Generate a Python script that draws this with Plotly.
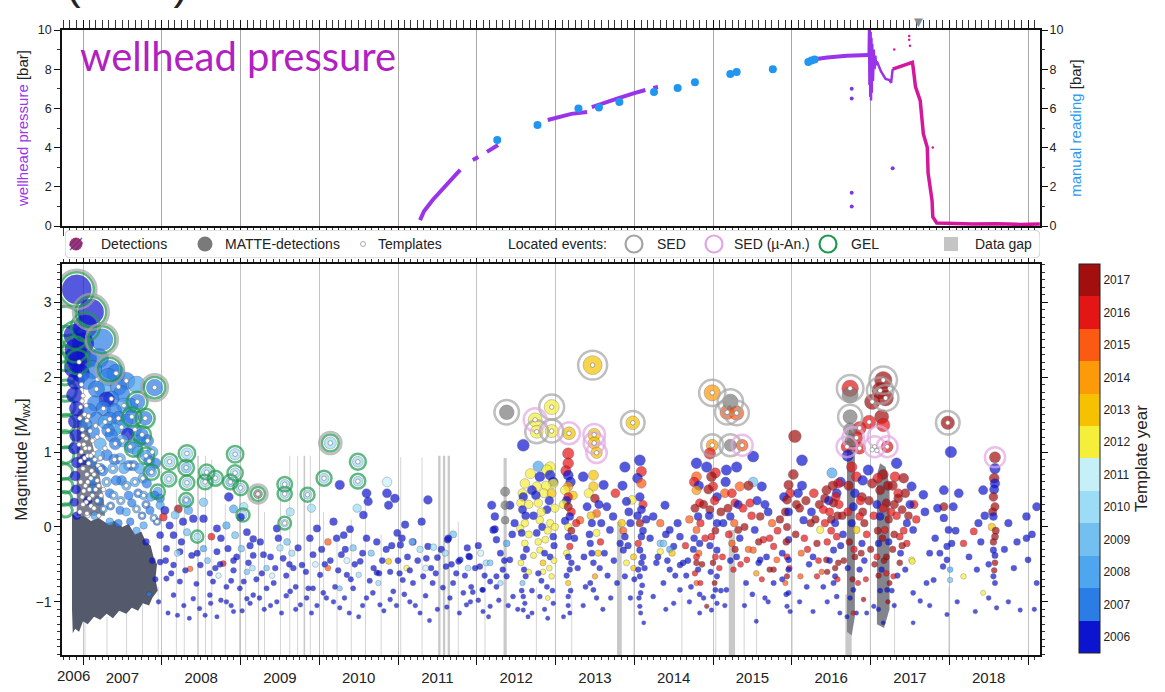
import numpy as np
import pandas as pd
import plotly.graph_objects as go

W, H = 1165, 692

# time window shown on both panels (decimal years)
T_START, T_END = 2006.733, 2019.152

# ------------------------------------------------------------------ upper panel
# wellhead pressure record (decimal year, bar); None separates recorded segments
whp_t = [2011.28, 2011.33, 2011.44, 2011.62, 2011.79, None,
         2011.95, 2012.02, None,
         2012.13, 2012.20, 2012.27, None,
         2012.90, 2013.05, 2013.20, 2013.40, None,
         2013.46, 2013.62, 2013.80, 2014.00, 2014.14, None,
         2014.24, 2014.30, None,
         2016.27, 2016.45, 2016.70, 2016.975]
whp_p = [0.30, 0.75, 1.33, 2.10, 2.86, None,
         3.37, 3.52, None,
         3.78, 3.95, 4.13, None,
         5.41, 5.58, 5.72, 5.82, None,
         6.07, 6.30, 6.52, 6.78, 6.94, None,
         7.04, 7.09, None,
         8.50, 8.60, 8.68, 8.72]
# rapid fluctuations at the beginning of 2017
whp_burst_t = [2016.975, 2016.98, 2016.985, 2016.99, 2016.995, 2017.0, 2017.005, 2017.01,
               2017.015, 2017.02, 2017.03, 2017.04, 2017.05, 2017.06, 2017.07, 2017.08,
               2017.09, 2017.13, 2017.19, 2017.24, 2017.26, 2017.27, 2017.28]
whp_burst_p = [8.72, 10.0, 7.2, 10.0, 6.6, 9.9, 6.4, 9.6,
               6.8, 9.3, 7.4, 9.0, 8.0, 8.7, 8.2, 8.4,
               8.3, 7.9, 7.5, 7.45, 7.3, 7.8, 8.0]
# final period and shut-in (drawn in magenta)
whp_late_t = [2017.28, 2017.40, 2017.53, 2017.54, 2017.57, 2017.63, 2017.67, 2017.72,
              2017.73, 2017.78, 2017.79, 2017.84, 2018.00, 2018.30, 2018.60, 2018.90, 2019.15]
whp_late_p = [8.00, 8.15, 8.35, 8.10, 7.10, 6.40, 4.70, 4.00,
              2.70, 1.30, 0.46, 0.15, 0.12, 0.10, 0.12, 0.08, 0.10]
whp_odd_t = [2016.76, 2016.76, 2016.76, 2016.76, 2017.28]
whp_odd_p = [7.0, 6.5, 1.7, 1.0, 2.95]
whp_late_odd_t = [2017.30, 2017.49, 2017.49, 2017.50, 2017.79]
whp_late_odd_p = [9.0, 9.7, 9.5, 9.2, 4.0]

# manual pressure readings (decimal year, bar)
manual_t = [2012.26, 2012.77, 2013.29, 2013.55, 2013.81, 2014.25, 2014.55, 2014.77,
            2015.22, 2015.30, 2015.76, 2016.21, 2016.25, 2016.29]
manual_p = [4.39, 5.15, 6.00, 6.05, 6.33, 6.84, 7.04, 7.33,
            7.76, 7.86, 8.00, 8.37, 8.45, 8.50]

# ------------------------------------------------------------------ template years
tpl_years = list(range(2006, 2018))
tpl_colors = ["#0c14cf", "#2b7de6", "#4ea6ee", "#73c0f0", "#9cdcf5", "#c6f0f8",
              "#f6ef3a", "#f6c200", "#fc9a0a", "#fb5a12", "#e41515", "#a30e0e"]

# ------------------------------------------------------------------ detections
# (decimal year, magnitude Mwx, template year)
det_early = [
    (2006.92, 3.17, 2006), (2007.10, 2.87, 2006), (2007.03, 2.67, 2006), (2006.90, 2.56, 2006),
    (2006.90, 2.37, 2006), (2006.93, 2.20, 2006), (2007.00, 2.45, 2006), (2007.05, 2.25, 2006),
    (2006.97, 2.05, 2006), (2006.90, 2.28, 2006), (2006.88, 2.12, 2006), (2006.91, 1.95, 2006),
    (2006.89, 1.76, 2006), (2006.92, 1.58, 2006), (2006.90, 1.41, 2006), (2006.91, 1.22, 2006),
    (2006.89, 1.05, 2006), (2006.92, 0.86, 2006), (2006.90, 0.68, 2006), (2006.91, 0.50, 2006),
    (2006.89, 0.33, 2006), (2006.92, 0.15, 2006),
    (2007.24, 2.50, 2007), (2007.34, 2.10, 2007), (2007.91, 1.86, 2007), (2007.69, 1.67, 2007),
    (2007.79, 1.45, 2007), (2007.75, 1.23, 2007), (2007.57, 1.24, 2006), (2007.40, 1.55, 2007),
    (2007.17, 1.84, 2007), (2007.32, 2.00, 2007), (2007.45, 1.87, 2007), (2007.49, 1.78, 2007),
    (2007.36, 1.71, 2007), (2007.26, 1.58, 2007), (2007.17, 1.44, 2007), (2007.34, 1.44, 2007),
    (2007.60, 1.62, 2007), (2007.62, 1.47, 2007), (2007.49, 1.33, 2008), (2007.32, 1.29, 2007),
    (2007.13, 1.27, 2007), (2007.03, 1.36, 2007), (2007.41, 1.11, 2007), (2007.22, 1.11, 2008),
    (2007.60, 1.07, 2007), (2007.70, 1.00, 2008), (2007.30, 0.96, 2007), (2007.47, 0.91, 2008),
    (2007.11, 0.87, 2007), (2007.22, 0.78, 2007), (2007.38, 0.78, 2008), (2007.58, 0.82, 2007),
    (2007.72, 0.78, 2008), (2007.85, 0.76, 2008), (2007.30, 0.60, 2008), (2007.49, 0.62, 2007),
    (2007.66, 0.60, 2008), (2007.81, 0.58, 2007), (2007.13, 0.51, 2007), (2007.39, 0.42, 2008),
    (2007.58, 0.42, 2007), (2007.77, 0.42, 2008), (2007.91, 0.42, 2007), (2007.26, 0.24, 2008),
    (2007.47, 0.22, 2007), (2007.68, 0.24, 2008), (2007.85, 0.22, 2007), (2007.98, 0.29, 2008),
    (2007.60, 0.07, 2007), (2007.77, 0.02, 2008), (2007.94, 0.07, 2007), (2007.34, 0.07, 2008),
    (2007.87, 0.73, 2008), (2007.80, 0.95, 2008), (2007.64, 1.05, 2008), (2007.95, 0.47, 2008),
    (2007.80, -0.20, 2006), (2007.88, -0.45, 2006), (2007.92, -0.70, 2006), (2007.84, -0.90, 2007),
    (2007.96, -1.00, 2006),
    (2007.05, 1.95, 2007), (2007.12, 2.10, 2007), (2007.20, 2.25, 2007), (2007.15, 1.65, 2007),
    (2007.25, 1.85, 2008), (2007.42, 2.05, 2007), (2007.55, 1.95, 2007), (2007.68, 1.90, 2008),
    (2007.52, 1.62, 2008), (2007.45, 1.45, 2007), (2007.28, 1.40, 2008), (2007.08, 1.55, 2007),
    (2007.55, 1.42, 2007), (2007.66, 1.30, 2008), (2007.36, 1.22, 2007), (2007.20, 0.95, 2008),
    (2007.50, 1.15, 2008), (2007.82, 1.15, 2007), (2007.88, 1.00, 2008), (2007.92, 0.85, 2007),
    (2007.42, 0.62, 2007), (2007.55, 0.55, 2008), (2007.70, 0.45, 2007), (2007.86, 0.40, 2008),
    (2007.20, 0.35, 2007), (2007.35, 0.28, 2007), (2007.55, 0.20, 2008), (2007.75, 0.15, 2007),
    (2007.90, 0.12, 2008), (2007.15, 0.15, 2008), (2007.45, 0.05, 2007), (2007.68, -0.05, 2008),
    (2007.06, 0.35, 2006), (2007.12, 0.62, 2007), (2007.02, 0.90, 2006), (2007.30, 1.70, 2006),
    (2007.40, 0.90, 2007), (2007.52, 0.78, 2008), (2007.64, 0.82, 2007), (2007.76, 0.65, 2008),
    (2007.34, 0.45, 2007), (2007.48, 0.35, 2008), (2007.62, 0.32, 2007), (2007.80, 0.30, 2007),
    (2007.25, 0.75, 2007), (2007.40, 1.30, 2008), (2007.72, 1.15, 2007), (2007.84, 0.88, 2007),
]

det_2008 = [
    (2007.98, 0.38, 2007), (2008.04, 0.22, 2006), (2008.17, 0.16, 2009), (2008.21, 0.24, 2017),
    (2008.02, 0.13, 2016), (2008.32, 0.33, 2009), (2008.34, 0.22, 2008), (2008.10, 0.02, 2006),
    (2008.27, 0.07, 2006), (2008.40, 0.11, 2006), (2008.53, 0.11, 2006), (2008.53, 0.33, 2009),
    (2008.85, 0.40, 2006), (2008.91, 0.24, 2008), (2009.04, 0.27, 2010), (2009.00, 0.13, 2006),
    (2007.98, -0.11, 2006), (2008.15, -0.11, 2006), (2008.32, -0.07, 2009), (2008.45, -0.13, 2010),
    (2008.63, -0.13, 2016), (2008.70, -0.02, 2006), (2008.82, 0.02, 2008), (2008.93, -0.11, 2009),
    (2009.08, -0.07, 2006), (2009.16, -0.16, 2006), (2008.06, -0.29, 2006), (2008.23, -0.33, 2006),
    (2008.38, -0.38, 2006), (2008.53, -0.29, 2008), (2008.70, -0.33, 2006), (2008.84, -0.29, 2006),
    (2009.01, -0.29, 2009), (2009.16, -0.38, 2006), (2007.98, -0.47, 2006), (2008.15, -0.51, 2006),
    (2008.36, -0.56, 2015), (2008.49, -0.51, 2006), (2008.61, -0.62, 2006), (2008.78, -0.49, 2016),
    (2008.91, -0.58, 2006), (2009.08, -0.60, 2009), (2008.06, -0.69, 2006), (2008.23, -0.73, 2006),
    (2008.44, -0.76, 2006), (2008.65, -0.73, 2006), (2008.82, -0.80, 2006), (2009.04, -0.73, 2006),
    (2008.15, -0.91, 2006), (2008.40, -0.96, 2006), (2008.61, -0.91, 2006), (2008.82, -1.00, 2006),
    (2009.08, -0.96, 2006), (2008.48, -1.09, 2006), (2008.91, -1.13, 2006),
    (2008.10, 0.87, 2010), (2008.09, 0.64, 2010), (2008.32, 0.98, 2010), (2008.31, 0.79, 2009),
    (2008.32, 0.59, 2010), (2008.31, 0.36, 2009), (2008.57, 0.73, 2010), (2008.55, 0.60, 2010),
    (2008.68, 0.65, 2010), (2008.93, 0.97, 2010), (2008.93, 0.72, 2010), (2008.87, 0.60, 2009),
    (2009.00, 0.52, 2010), (2009.03, 0.16, 2010),
    (2008.05, -0.45, 2006), (2008.25, -0.20, 2006), (2008.45, -0.35, 2006), (2008.58, -0.45, 2009),
    (2008.75, -0.15, 2006), (2008.95, -0.40, 2006), (2009.12, -0.25, 2006), (2009.20, -0.70, 2006),
]

det_2009_2011 = [
    (2009.25, -0.20, 2006), (2009.29, -0.37, 2006), (2009.33, -0.55, 2009), (2009.46, -0.02, 2006),
    (2009.48, -0.15, 2006), (2009.50, -0.28, 2010), (2009.54, -0.42, 2006), (2009.59, -0.20, 2009),
    (2009.63, 0.20, 2010), (2009.67, -0.55, 2006), (2009.73, -0.28, 2006), (2009.78, -0.51, 2006),
    (2009.88, -0.15, 2006), (2009.90, 0.25, 2010), (2009.92, -0.37, 2006), (2009.97, -0.02, 2006),
    (2010.01, -0.64, 2006), (2010.11, -0.20, 2015), (2010.11, -0.55, 2015), (2010.18, 0.07, 2006),
    (2010.22, -0.15, 2006), (2010.26, 0.56, 2006), (2010.28, -0.37, 2006), (2010.31, -0.11, 2006),
    (2010.35, -0.64, 2006), (2010.39, -0.03, 2006), (2010.43, -0.28, 2009), (2010.48, 0.25, 2010),
    (2010.52, -0.46, 2006), (2010.56, 0.16, 2006), (2010.60, 0.45, 2006), (2010.62, 0.34, 2006),
    (2010.60, -0.15, 2006), (2010.69, -0.55, 2006), (2010.73, -0.20, 2006), (2010.86, 0.45, 2006),
    (2010.86, 0.60, 2011), (2010.88, 0.29, 2006), (2010.88, -0.46, 2013), (2010.96, 0.38, 2006),
    (2011.03, -0.24, 2006), (2011.11, -0.55, 2012), (2011.19, -0.20, 2006), (2008.91, -0.45, 2006),
    (2008.74, -0.50, 2006), (2008.99, -0.82, 2006), (2009.16, -0.91, 2006), (2009.33, -0.82, 2006),
    (2009.46, -1.00, 2006), (2009.63, -0.86, 2006), (2009.76, -1.04, 2006), (2009.92, -0.82, 2006),
    (2010.09, -0.95, 2006), (2010.26, -1.08, 2006), (2010.43, -0.82, 2006), (2010.60, -0.95, 2006),
    (2010.77, -1.04, 2006), (2010.94, -0.86, 2006), (2011.15, -1.00, 2006), (2010.26, -0.82, 2009),
    (2010.50, -0.64, 2010), (2009.56, 0.57, 2010), (2009.56, 0.44, 2010), (2009.85, 0.43, 2010),
    (2010.06, 0.65, 2010), (2010.49, 0.87, 2010), (2010.49, 0.61, 2010), (2009.56, 0.05, 2010),
    (2009.38, -0.40, 2006), (2009.42, -0.75, 2006), (2009.58, -0.65, 2006), (2009.65, -0.35, 2010),
    (2009.70, -0.80, 2006), (2009.83, -0.60, 2006), (2010.03, -0.30, 2006), (2010.14, -0.45, 2006),
    (2010.20, -0.80, 2006), (2010.33, -0.30, 2006), (2010.45, -0.50, 2006), (2010.55, -0.35, 2006),
    (2010.66, -0.35, 2009), (2010.80, -0.45, 2006), (2010.92, -0.25, 2006), (2011.00, -0.45, 2006),
]

det_2011_2012 = [
    (2011.38, 0.36, 2006), (2011.09, 0.03, 2006), (2011.30, 0.07, 2006), (2010.99, -0.08, 2006),
    (2011.05, -0.15, 2006), (2011.18, -0.20, 2009), (2011.38, -0.26, 2006), (2011.28, -0.30, 2010),
    (2011.63, -0.17, 2006), (2011.50, -0.41, 2006), (2011.61, -0.53, 2006), (2011.77, -0.46, 2006),
    (2011.90, -0.39, 2006), (2012.12, -0.48, 2010), (2012.23, -0.03, 2006), (2012.25, -0.17, 2006),
    (2012.19, 0.29, 2006), (2012.59, 1.09, 2006), (2010.73, -0.61, 2006), (2010.90, -0.60, 2006),
    (2011.06, -0.71, 2006), (2011.19, -0.75, 2006), (2011.32, -0.66, 2006), (2011.44, -0.75, 2006),
    (2011.57, -0.81, 2006), (2011.70, -0.75, 2006), (2011.83, -0.88, 2006), (2011.95, -0.87, 2006),
    (2012.07, -0.84, 2006), (2012.17, -0.73, 2006), (2012.25, -0.66, 2006), (2012.33, -0.57, 2006),
    (2010.90, -0.97, 2006), (2011.28, -1.15, 2006), (2011.62, -1.07, 2006), (2011.87, -1.04, 2006),
    (2012.08, -1.13, 2006), (2011.64, -0.15, 2006), (2011.79, -0.44, 2006), (2011.91, -0.40, 2006),
    (2011.89, -0.55, 2010), (2012.04, -0.53, 2006), (2012.17, -0.48, 2009), (2012.21, -0.04, 2006),
    (2012.23, 0.14, 2006), (2012.38, -0.22, 2008), (2012.42, -0.44, 2006), (2012.38, -0.66, 2006),
    (2012.25, -0.80, 2006), (2012.08, -0.84, 2006), (2011.93, -0.80, 2006), (2012.46, -0.93, 2006),
    (2012.17, -1.06, 2006), (2012.42, 0.29, 2006), (2011.45, -0.27, 2010), (2011.70, -0.10, 2009),
    (2011.12, -0.40, 2006), (2011.25, -0.45, 2006), (2011.42, -0.55, 2006), (2011.55, -0.30, 2006),
    (2011.68, -0.50, 2006), (2011.85, -0.65, 2006), (2011.98, -0.55, 2006), (2012.02, -0.25, 2006),
    (2012.30, -0.35, 2006), (2012.45, -0.10, 2006), (2012.48, 0.05, 2006),
]

# additional small events 2008-2012 (mostly 2006 templates)
det_2008_2012_low = [
    (2008.08, -1.15, 2006), (2008.28, -1.05, 2006), (2008.35, -1.22, 2006), (2008.55, -1.18, 2006),
    (2008.62, -1.02, 2006), (2008.75, -0.98, 2006), (2008.88, -1.05, 2006), (2009.02, -1.12, 2006),
    (2009.12, -1.02, 2006), (2009.24, -0.95, 2006), (2009.38, -1.05, 2006), (2009.52, -1.15, 2006),
    (2009.58, -0.92, 2006), (2009.70, -1.10, 2006), (2009.84, -0.95, 2006), (2009.97, -1.05, 2006),
    (2010.05, -0.88, 2006), (2010.18, -1.00, 2006), (2010.32, -0.95, 2006), (2010.38, -1.15, 2006),
    (2010.55, -1.05, 2006), (2010.68, -0.88, 2006), (2010.82, -1.12, 2006), (2010.98, -1.05, 2006),
    (2011.08, -0.90, 2006), (2011.22, -1.05, 2006), (2011.35, -0.92, 2006), (2011.50, -1.10, 2006),
    (2011.66, -0.95, 2006), (2011.78, -1.15, 2006), (2011.92, -1.00, 2006), (2012.02, -0.98, 2006),
    (2012.15, -1.20, 2006), (2012.28, -0.98, 2006), (2012.52, -1.10, 2006),
    (2008.12, -0.62, 2006), (2008.30, -0.58, 2006), (2008.68, -0.55, 2006), (2008.88, -0.72, 2006),
    (2009.10, -0.48, 2006), (2009.27, -0.62, 2006), (2009.44, -0.55, 2006), (2009.62, -0.50, 2006),
    (2009.86, -0.82, 2006), (2010.07, -0.50, 2006), (2010.24, -0.58, 2006), (2010.40, -0.70, 2006),
    (2010.64, -0.72, 2006), (2010.76, -0.62, 2006), (2010.85, -0.30, 2006), (2011.02, -0.62, 2006),
    (2011.15, -0.58, 2006), (2011.36, -0.42, 2006), (2011.48, -0.62, 2006), (2011.74, -0.62, 2006),
    (2011.88, -0.28, 2006), (2012.10, -0.65, 2006), (2012.35, -0.45, 2006),
    (2008.20, -0.35, 2010), (2008.72, -0.65, 2011), (2009.15, -0.55, 2010), (2009.40, -0.65, 2011),
    (2009.95, -0.50, 2011), (2010.35, -0.45, 2011), (2010.75, -0.75, 2010), (2011.35, -0.55, 2011),
    (2011.60, -0.35, 2010), (2012.05, -0.35, 2011), (2012.30, -0.75, 2010),
]

det_2012_2014 = [
    (2012.78, 0.81, 2008), (2012.93, 0.80, 2012), (2012.61, 0.58, 2012), (2012.80, 0.67, 2006),
    (2012.93, 0.69, 2006), (2012.76, 0.54, 2012), (2012.97, 0.58, 2012), (2012.89, 0.76, 2012),
    (2012.97, 0.60, 2006), (2012.68, 0.71, 2012), (2012.70, 0.49, 2006),
    (2012.59, 0.40, 2006), (2012.58, 0.23, 2006), (2012.61, 0.05, 2012), (2012.57, -0.08, 2006),
    (2012.61, -0.22, 2012), (2012.59, -0.40, 2006), (2012.60, -0.57, 2006), (2012.58, -0.75, 2009),
    (2012.59, -0.93, 2006), (2012.59, -1.11, 2006),
    (2012.78, 0.32, 2012), (2012.89, 0.23, 2006), (2012.80, 0.09, 2012), (2012.93, 0.05, 2012),
    (2012.76, -0.08, 2006), (2012.87, -0.17, 2012), (2012.97, -0.13, 2006), (2012.80, -0.31, 2012),
    (2012.93, -0.40, 2006), (2012.84, -0.48, 2013), (2012.78, -0.62, 2006), (2012.95, -0.66, 2012),
    (2012.89, -0.80, 2006), (2012.80, -0.93, 2006), (2012.97, -1.02, 2006),
    (2013.16, 0.98, 2016), (2013.16, 0.85, 2016), (2013.16, 0.69, 2006), (2013.16, 0.54, 2014),
    (2013.16, 0.27, 2017), (2013.18, 0.14, 2006), (2013.16, 0.00, 2012), (2013.16, -0.13, 2006),
    (2013.18, -0.26, 2016), (2013.16, -0.40, 2006), (2013.18, -0.57, 2006), (2013.16, -0.75, 2013),
    (2013.16, -0.93, 2006), (2013.18, -1.15, 2006), (2013.12, 0.49, 2012), (2013.16, 0.40, 2016),
    (2013.35, 0.67, 2006), (2013.48, 0.54, 2013), (2013.50, 0.38, 2017), (2013.40, 0.27, 2006),
    (2013.52, 0.18, 2015), (2013.46, 0.05, 2006), (2013.31, 0.09, 2015), (2013.52, -0.08, 2012),
    (2013.44, -0.22, 2006), (2013.54, -0.35, 2013), (2013.48, -0.48, 2006), (2013.50, -0.66, 2014),
    (2013.48, -0.84, 2006), (2013.61, 0.56, 2006), (2013.65, 0.27, 2006), (2013.73, 0.14, 2006),
    (2013.76, 0.45, 2016), (2013.69, -0.04, 2006), (2013.82, -0.22, 2006), (2013.48, 0.69, 2013),
    (2013.88, 0.80, 2006), (2013.90, 0.34, 2006), (2013.84, 0.05, 2013), (2013.88, -0.13, 2006),
    (2013.86, -0.31, 2006), (2013.90, -0.48, 2012), (2013.88, -0.66, 2006), (2013.97, 0.36, 2012),
    (2013.99, -0.40, 2013), (2013.99, -0.55, 2013),
    (2014.07, 0.89, 2006), (2014.09, 0.74, 2016), (2014.09, 0.58, 2015), (2014.07, 0.40, 2006),
    (2014.09, 0.23, 2006), (2014.07, 0.05, 2017), (2014.09, -0.13, 2006), (2014.07, -0.31, 2006),
    (2014.09, -0.48, 2006), (2014.07, -0.66, 2006), (2014.08, -0.88, 2006), (2014.07, -1.06, 2006),
    (2014.24, 0.14, 2006), (2014.33, 0.05, 2015), (2014.39, 0.29, 2006), (2014.45, -0.04, 2006),
    (2014.33, -0.22, 2009), (2014.50, -0.26, 2006), (2014.58, -0.13, 2006), (2014.28, -0.48, 2006),
    (2014.45, -0.57, 2006), (2014.62, -0.48, 2006), (2014.37, -0.75, 2006), (2014.58, -0.84, 2006),
    (2014.24, -0.93, 2006), (2014.50, -1.02, 2006), (2014.33, -0.33, 2012), (2014.45, -0.30, 2008),
    (2014.37, -0.22, 2009), (2014.48, -0.35, 2013), (2014.58, -0.51, 2006),
    (2012.56, 0.32, 2012), (2012.62, 0.15, 2006), (2012.55, -0.02, 2012), (2012.63, -0.30, 2006),
    (2012.56, -0.48, 2012), (2012.62, -0.66, 2006), (2012.57, -0.85, 2006), (2012.61, -1.02, 2006),
    (2012.75, 0.42, 2006), (2012.85, 0.45, 2012), (2012.92, 0.35, 2006), (2012.99, 0.25, 2012),
    (2012.83, 0.00, 2006), (2012.90, -0.05, 2012), (2012.98, -0.25, 2006), (2012.78, -0.20, 2012),
    (2012.86, -0.35, 2006), (2012.92, -0.55, 2012), (2012.82, -0.72, 2006), (2012.96, -0.85, 2006),
    (2012.86, -1.10, 2006),
    (2013.13, 0.75, 2016), (2013.19, 0.60, 2006), (2013.14, 0.35, 2006), (2013.20, 0.20, 2016),
    (2013.12, 0.08, 2006), (2013.20, -0.05, 2017), (2013.14, -0.35, 2012), (2013.20, -0.48, 2006),
    (2013.14, -0.65, 2006), (2013.19, -0.85, 2006), (2013.16, -1.05, 2006),
    (2013.42, 0.45, 2012), (2013.55, 0.30, 2006), (2013.45, 0.15, 2013), (2013.58, 0.05, 2006),
    (2013.43, -0.10, 2006), (2013.57, -0.20, 2016), (2013.46, -0.35, 2006), (2013.56, -0.55, 2006),
    (2013.44, -0.75, 2006), (2013.52, -0.95, 2006),
    (2013.85, 0.55, 2006), (2013.93, 0.20, 2006), (2013.86, -0.05, 2015), (2013.92, -0.25, 2006),
    (2014.04, 0.65, 2006), (2014.11, 0.30, 2016), (2014.04, 0.15, 2006), (2014.11, -0.05, 2006),
    (2014.05, -0.22, 2016), (2014.11, -0.40, 2006), (2014.05, -0.57, 2006), (2014.10, -0.78, 2006),
    (2014.06, -0.95, 2006), (2014.08, -1.15, 2006),
    (2014.20, -0.15, 2006), (2014.30, -0.40, 2006), (2014.40, -0.10, 2006), (2014.42, -0.45, 2006),
    (2014.52, -0.65, 2006), (2014.55, 0.05, 2006), (2014.65, -0.25, 2016), (2014.66, -0.65, 2006),
    (2012.58, 0.45, 2012), (2012.66, 0.30, 2012), (2012.72, 0.15, 2006), (2012.66, -0.10, 2012),
    (2012.72, -0.38, 2012), (2012.66, -0.60, 2012), (2012.70, -0.85, 2006), (2012.88, 0.55, 2012),
    (2012.95, 0.45, 2013), (2012.82, 0.20, 2012), (2012.99, 0.00, 2012), (2012.84, -0.60, 2012),
    (2012.98, -0.45, 2012), (2012.90, -0.95, 2012),
    (2013.10, 0.30, 2012), (2013.22, 0.42, 2013), (2013.24, -0.15, 2006), (2013.28, -0.55, 2006),
    (2013.26, 0.05, 2016), (2013.36, -0.40, 2006), (2013.38, -0.80, 2006), (2013.62, -0.35, 2006),
    (2013.66, -0.65, 2006), (2013.74, -0.45, 2006), (2013.78, -0.75, 2006), (2013.95, 0.05, 2006),
    (2014.00, -0.70, 2006), (2014.13, -0.55, 2006), (2014.15, 0.10, 2006),
]

det_2014_2016 = [
    (2014.79, 0.85, 2006), (2014.79, 0.67, 2015), (2014.79, 0.49, 2014), (2014.83, 0.32, 2016),
    (2014.81, 0.14, 2006), (2014.79, -0.04, 2015), (2014.83, -0.22, 2006), (2014.79, -0.40, 2016),
    (2014.81, -0.57, 2006), (2014.79, -0.75, 2015), (2014.92, 0.80, 2006), (2014.96, 0.98, 2016),
    (2014.98, 0.67, 2017), (2015.00, 0.54, 2016), (2015.03, 0.72, 2016), (2015.05, 0.40, 2006),
    (2014.96, 0.23, 2017), (2015.05, 0.05, 2006), (2014.98, -0.13, 2016), (2015.05, -0.31, 2006),
    (2015.00, -0.48, 2017), (2015.05, -0.66, 2006), (2015.03, -0.84, 2006), (2015.05, -1.02, 2006),
    (2015.17, 0.76, 2006), (2015.15, 0.45, 2015), (2015.30, 0.80, 2006), (2015.34, 0.54, 2015),
    (2015.28, 0.32, 2016), (2015.22, 0.14, 2006), (2015.32, -0.04, 2017), (2015.24, -0.22, 2015),
    (2015.30, -0.40, 2006), (2015.26, -0.57, 2016), (2015.51, 0.94, 2006), (2015.51, 0.60, 2009),
    (2015.62, 0.54, 2006), (2015.47, 0.32, 2016), (2015.60, 0.14, 2017), (2015.53, -0.04, 2006),
    (2015.64, -0.17, 2016), (2015.51, -0.31, 2015), (2015.58, -0.48, 2006), (2015.77, -0.26, 2016),
    (2015.81, -0.44, 2015), (2015.72, -0.57, 2017), (2015.77, -0.75, 2006),
    (2014.79, -0.48, 2017), (2014.84, -0.75, 2016), (2015.00, -0.93, 2006), (2014.98, -1.11, 2006),
    (2014.92, -1.06, 2017), (2015.17, -0.84, 2006), (2015.43, -0.44, 2016), (2015.55, -0.62, 2014),
    (2015.60, -0.44, 2006), (2015.77, -0.57, 2017), (2015.96, -0.44, 2006), (2015.94, -0.66, 2017),
    (2015.96, -0.88, 2006), (2015.94, -1.06, 2006), (2014.70, 0.10, 2015), (2014.75, -0.30, 2006),
    (2014.88, 0.30, 2017), (2014.90, -0.15, 2016), (2015.10, 0.20, 2017), (2015.12, -0.40, 2016),
    (2015.40, 0.00, 2017), (2015.45, -0.30, 2015), (2015.70, 0.20, 2006), (2015.72, -0.15, 2016),
    (2015.85, 0.10, 2017), (2015.88, -0.35, 2006),
    (2014.76, 0.60, 2016), (2014.82, 0.55, 2006), (2014.77, 0.25, 2017), (2014.84, 0.05, 2016),
    (2014.76, -0.15, 2006), (2014.82, -0.35, 2015), (2014.77, -0.62, 2016), (2014.83, -0.90, 2006),
    (2014.94, 0.50, 2017), (2015.02, 0.35, 2016), (2014.95, 0.15, 2006), (2015.03, -0.05, 2017),
    (2014.96, -0.25, 2006), (2015.03, -0.40, 2016), (2014.97, -0.60, 2006), (2015.02, -0.75, 2017),
    (2015.16, 0.60, 2006), (2015.24, 0.45, 2016), (2015.32, 0.30, 2006), (2015.19, 0.25, 2017),
    (2015.27, 0.05, 2015), (2015.34, -0.15, 2006), (2015.20, -0.10, 2016), (2015.28, -0.30, 2017),
    (2015.22, -0.45, 2006), (2015.35, -0.50, 2016), (2015.45, 0.55, 2017), (2015.56, 0.35, 2006),
    (2015.49, 0.15, 2016), (2015.66, 0.30, 2006), (2015.58, -0.20, 2017), (2015.68, -0.40, 2006),
    (2015.82, -0.05, 2016), (2015.92, 0.20, 2017), (2015.98, 0.45, 2016), (2015.93, -0.20, 2017),
    (2015.97, -0.55, 2016), (2015.93, -0.90, 2006),
    (2014.68, -0.45, 2006), (2014.72, -0.80, 2006), (2014.86, -0.50, 2017), (2014.88, -0.95, 2006),
    (2015.08, -0.55, 2016), (2015.10, -0.85, 2006), (2015.13, 0.05, 2006), (2015.38, 0.25, 2016),
    (2015.42, -0.75, 2006), (2015.50, -0.90, 2006), (2015.62, -0.70, 2016), (2015.66, -0.95, 2006),
    (2015.75, 0.05, 2015), (2015.88, -0.70, 2006), (2015.90, 0.40, 2006),
]

det_2016_2019 = [
    (2016.04, 1.21, 2017), (2016.13, 0.89, 2006), (2015.96, 0.56, 2017), (2015.94, 0.36, 2017),
    (2015.96, 0.20, 2006), (2015.94, 0.00, 2017), (2015.96, -0.17, 2006), (2015.94, -0.40, 2016),
    (2015.96, -0.57, 2006), (2015.92, -0.75, 2015), (2016.15, 0.09, 2006), (2016.25, 0.20, 2006),
    (2016.40, 0.23, 2016), (2016.36, -0.04, 2012), (2016.32, -0.22, 2017), (2016.27, -0.40, 2006),
    (2016.44, 0.49, 2017), (2016.51, 0.72, 2008), (2016.59, 0.58, 2016), (2016.57, 0.45, 2006),
    (2016.53, 0.32, 2017), (2016.55, 0.05, 2006), (2016.57, -0.13, 2016), (2016.53, -0.31, 2006),
    (2016.59, -0.48, 2017), (2016.55, -0.66, 2006), (2016.82, 0.67, 2016), (2016.90, 0.62, 2006),
    (2016.89, 0.40, 2017), (2016.78, 0.27, 2006), (2016.86, 0.14, 2016), (2016.82, -0.04, 2013),
    (2016.89, -0.22, 2006), (2016.80, -0.40, 2017), (2016.86, -0.57, 2006), (2016.84, -0.75, 2016),
    (2016.97, 0.76, 2006), (2017.02, 0.58, 2017), (2017.12, 0.49, 2017), (2017.20, 0.32, 2017),
    (2017.12, 0.14, 2006), (2017.18, -0.04, 2016), (2017.10, -0.22, 2006), (2017.20, -0.40, 2017),
    (2017.14, -0.57, 2006), (2017.24, -0.75, 2017), (2017.33, 0.85, 2006), (2017.31, 0.67, 2016),
    (2017.35, 0.38, 2017), (2017.44, 0.45, 2017), (2017.40, 0.23, 2017), (2017.46, 0.05, 2006),
    (2017.52, 0.54, 2006), (2017.37, -0.13, 2016), (2017.46, -0.22, 2016), (2017.52, -0.44, 2012),
    (2017.54, -0.04, 2006), (2017.44, -0.57, 2006), (2017.67, 0.43, 2006), (2017.69, 0.20, 2006),
    (2017.82, -0.15, 2006), (2017.93, 0.49, 2006), (2017.93, 0.27, 2017), (2018.05, 0.27, 2006),
    (2017.93, 0.12, 2006), (2017.99, -0.04, 2006), (2018.03, -0.22, 2006), (2017.97, -0.44, 2006),
    (2018.01, -0.57, 2008), (2018.18, -0.22, 2016), (2018.18, -0.66, 2012), (2018.31, -0.06, 2016),
    (2018.37, 0.05, 2006), (2018.43, 0.49, 2006), (2018.58, 0.78, 2006), (2018.58, 0.58, 2006),
    (2018.56, 0.40, 2017), (2018.58, 0.27, 2017), (2018.56, 0.14, 2006), (2018.54, 0.00, 2013),
    (2018.58, -0.13, 2017), (2018.56, -0.31, 2006), (2018.58, -0.48, 2017), (2018.56, -0.66, 2006),
    (2018.86, -0.20, 2006), (2018.98, 0.14, 2006), (2018.98, -0.15, 2006), (2019.11, 0.27, 2006),
    (2019.00, -0.44, 2006), (2019.11, -0.75, 2006), (2018.02, 1.00, 2006), (2016.13, 0.55, 2006),
    (2016.11, -0.66, 2015), (2016.19, -0.80, 2006), (2016.32, -0.66, 2016), (2016.44, -0.44, 2017),
    (2016.53, -0.75, 2006), (2016.57, -0.93, 2006), (2016.78, -0.84, 2006), (2016.91, -0.97, 2017),
    (2016.82, -1.15, 2006), (2017.04, -1.06, 2006), (2017.21, -0.84, 2006), (2017.29, -0.66, 2016),
    (2017.37, -0.48, 2017), (2017.53, -0.46, 2012), (2017.54, -0.88, 2006), (2017.63, -0.99, 2006),
    (2017.80, -0.71, 2006), (2017.92, -0.53, 2006), (2018.01, -0.71, 2009), (2017.97, -0.26, 2006),
    (2018.35, -0.57, 2006), (2018.43, -0.88, 2012), (2017.71, -0.75, 2006), (2017.88, -0.35, 2006),
    (2016.05, -0.10, 2017), (2016.10, 0.25, 2017), (2016.20, -0.30, 2016), (2016.30, 0.10, 2017),
    (2016.45, -0.20, 2016), (2016.50, 0.10, 2017), (2016.55, -0.55, 2017), (2016.60, 0.30, 2016),
    (2016.65, -0.10, 2006), (2016.48, -0.45, 2006), (2016.38, -0.60, 2015), (2016.22, -0.50, 2006),
    (2016.12, -0.35, 2015), (2017.30, 0.30, 2017), (2017.42, -0.05, 2016), (2017.48, 0.15, 2017),
    (2017.55, 0.30, 2016), (2017.38, -0.35, 2006), (2018.58, 0.93, 2017), (2017.98, 1.39, 2017),
    (2016.02, 0.70, 2017), (2016.08, 0.45, 2006), (2016.18, 0.35, 2017), (2016.28, 0.45, 2016),
    (2016.35, 0.30, 2017), (2016.42, 0.05, 2016), (2016.47, 0.35, 2006), (2016.52, 0.55, 2017),
    (2016.58, 0.15, 2017), (2016.62, -0.25, 2006), (2016.50, -0.05, 2016), (2016.45, -0.60, 2017),
    (2016.40, -0.80, 2006), (2016.58, -0.70, 2016), (2016.62, 0.60, 2006),
    (2016.71, 0.95, 2006), (2016.76, 0.80, 2016), (2016.72, 0.55, 2017), (2016.80, 0.45, 2006),
    (2016.71, 0.20, 2016), (2016.76, 0.05, 2006), (2016.73, -0.20, 2017), (2016.79, -0.30, 2016),
    (2016.71, -0.55, 2006), (2016.77, -0.70, 2017), (2016.74, -0.95, 2006), (2016.78, -1.15, 2016),
    (2016.90, 0.20, 2017), (2016.95, -0.10, 2016), (2016.92, -0.45, 2006), (2016.98, 0.35, 2017),
    (2017.00, -0.30, 2017),
    (2017.09, 0.65, 2016), (2017.16, 0.70, 2017), (2017.22, 0.55, 2017), (2017.08, 0.30, 2006),
    (2017.16, 0.25, 2016), (2017.23, 0.10, 2017), (2017.09, -0.05, 2017), (2017.15, -0.15, 2017),
    (2017.23, -0.20, 2006), (2017.08, -0.40, 2016), (2017.17, -0.45, 2017), (2017.10, -0.65, 2017),
    (2017.20, -0.62, 2016), (2017.12, -0.85, 2006), (2017.22, -1.00, 2017), (2017.10, -1.10, 2006),
    (2017.28, 0.55, 2017), (2017.33, 0.15, 2016), (2017.28, -0.30, 2017), (2017.34, -0.65, 2006),
    (2017.42, 0.65, 2017), (2017.50, 0.30, 2006), (2017.58, 0.10, 2016),
    (2017.75, -0.35, 2006), (2017.85, 0.25, 2006), (2018.08, -0.05, 2006), (2018.12, 0.45, 2006),
    (2018.25, -0.40, 2006), (2018.40, -0.20, 2006), (2018.45, 0.15, 2006), (2018.50, -0.50, 2006),
    (2018.57, 0.65, 2017), (2018.57, 0.50, 2006), (2018.55, 0.20, 2017), (2018.59, -0.05, 2017),
    (2018.56, -0.20, 2017), (2018.58, -0.38, 2006), (2018.57, -0.58, 2017), (2018.58, -0.75, 2006),
    (2018.70, -0.30, 2006), (2018.75, 0.05, 2006), (2018.82, -0.55, 2006), (2019.05, -0.10, 2006),
    (2016.06, 0.30, 2017), (2016.16, -0.15, 2016), (2016.24, 0.05, 2017), (2016.34, -0.45, 2016),
    (2016.42, 0.38, 2017), (2016.48, 0.20, 2016), (2016.56, 0.40, 2016), (2016.64, 0.15, 2017),
    (2016.66, -0.45, 2017), (2016.87, 0.35, 2016), (2016.92, 0.05, 2017), (2016.88, -0.35, 2017),
    (2016.94, -0.70, 2016), (2017.04, 0.15, 2016), (2017.05, -0.50, 2017), (2017.26, 0.20, 2016),
    (2017.30, -0.10, 2017), (2017.27, -0.85, 2006), (2017.35, 0.45, 2016), (2017.40, -0.25, 2017),
]

det_small = [
    (2014.12, -1.28, 2006), (2014.83, -1.15, 2006), (2015.55, -1.26, 2006), (2015.98, -1.13, 2006),
    (2016.27, -1.13, 2006), (2016.61, -1.15, 2006), (2017.16, -1.28, 2006), (2017.54, -1.28, 2006),
    (2017.97, -1.17, 2006), (2018.33, -1.13, 2006), (2018.60, -1.08, 2006), (2018.90, -1.11, 2006),
    (2013.10, -1.20, 2006), (2012.70, -1.15, 2006), (2013.60, -1.10, 2006), (2011.40, -1.25, 2006),
    (2010.50, -1.20, 2006), (2009.90, -1.15, 2006), (2009.30, -1.10, 2006), (2008.70, -1.20, 2006),
    (2008.20, -1.18, 2006), (2012.40, -1.05, 2006), (2012.65, -1.20, 2006), (2012.90, -1.22, 2006),
    (2013.35, -1.05, 2006), (2013.70, -0.95, 2006), (2013.95, -0.95, 2006), (2014.40, -1.10, 2006),
    (2014.70, -1.00, 2006), (2015.15, -1.05, 2006), (2015.40, -1.05, 2006), (2015.70, -1.00, 2006),
    (2016.10, -1.00, 2006), (2016.45, -1.00, 2006), (2016.70, -1.20, 2006), (2016.95, -1.15, 2006),
    (2017.30, -1.05, 2006), (2017.75, -1.05, 2006), (2018.10, -1.00, 2006), (2018.50, -0.95, 2006),
    (2018.75, -1.00, 2006), (2019.08, -1.10, 2006),
]

# detections that belong to located events
det_located = [
    (2010.14, 1.12, 2010), (2012.95, 1.60, 2012), (2012.74, 1.43, 2012), (2012.76, 1.27, 2012),
    (2012.95, 1.28, 2012), (2013.17, 1.25, 2013), (2013.47, 2.16, 2013), (2013.49, 1.23, 2013),
    (2013.49, 1.12, 2013), (2013.52, 0.99, 2013), (2013.98, 1.39, 2013), (2014.99, 1.79, 2014),
    (2015.18, 1.53, 2015), (2015.30, 1.52, 2015), (2014.99, 1.09, 2014), (2015.37, 1.09, 2015),
    (2016.74, 1.85, 2016), (2017.16, 1.96, 2017), (2017.12, 1.82, 2017), (2017.19, 1.72, 2017),
    (2017.02, 1.67, 2017), (2017.14, 1.47, 2017), (2016.86, 1.32, 2016), (2016.98, 1.40, 2016),
    (2017.16, 1.36, 2016), (2016.82, 1.19, 2016), (2016.70, 1.07, 2016), (2016.86, 1.05, 2016),
    (2017.21, 1.07, 2016),
]

# MATTE detections (grey)
matte_t = [2012.38, 2012.36, 2012.36, 2012.36, 2015.22, 2015.22, 2016.74, 2016.74, 2016.74, 2016.75, 2009.22]
matte_m = [1.53, 0.47, 0.29, 0.09, 1.67, 1.09, 1.76, 1.47, 1.30, 1.15, 0.44]

# dense swarms of MATTE detections, outlined (decimal year, magnitude)
swarm_2007_t = [2006.86, 2006.93, 2007.00, 2007.10, 2007.20, 2007.30, 2007.40, 2007.50, 2007.58, 2007.66,
                2007.74, 2007.80, 2007.86, 2007.90, 2007.94, 2007.92, 2007.95, 2007.88, 2007.84, 2007.76,
                2007.70, 2007.62, 2007.55, 2007.46, 2007.38, 2007.30, 2007.22, 2007.14, 2007.06, 2007.00,
                2006.95, 2006.90, 2006.87, 2006.86]
swarm_2007_m = [0.18, 0.12, 0.16, 0.08, 0.12, 0.05, 0.08, 0.00, 0.04, -0.10,
                -0.06, -0.20, -0.25, -0.42, -0.50, -0.70, -0.85, -0.95, -1.05, -1.02,
                -1.12, -1.08, -1.16, -1.12, -1.22, -1.16, -1.24, -1.20, -1.30, -1.26,
                -1.40, -1.36, -1.42, -1.10]
swarm_2007b_t = [2006.92, 2006.92, 2006.98, 2007.05, 2007.12, 2007.20, 2007.26, 2007.28]
swarm_2007b_m = [0.15, 1.50, 1.60, 1.40, 1.10, 0.75, 0.40, 0.15]
swarm_2016_t = [2016.70, 2016.70, 2016.73, 2016.77, 2016.80, 2016.80, 2016.76]
swarm_2016_m = [-1.40, 1.15, 1.30, 1.28, 1.05, -1.20, -1.45]
swarm_2017_t = [2017.08, 2017.08, 2017.12, 2017.19, 2017.24, 2017.24, 2017.17]
swarm_2017_m = [-1.30, 0.70, 0.85, 0.80, 0.55, -1.10, -1.35]

# located events (decimal year, magnitude)
sed_t = [2006.92, 2007.10, 2007.24, 2007.34, 2007.91, 2009.22, 2010.14, 2012.38, 2012.95, 2012.76,
         2012.95, 2013.47, 2013.98, 2014.99, 2015.22, 2015.18, 2015.30, 2014.99, 2015.22, 2016.74,
         2016.74, 2017.16, 2017.12, 2017.19, 2017.98]
sed_m = [3.17, 2.87, 2.50, 2.10, 1.86, 0.44, 1.12, 1.53, 1.60, 1.27,
         1.28, 2.16, 1.39, 1.79, 1.67, 1.53, 1.52, 1.09, 1.09, 1.85,
         1.47, 1.96, 1.82, 1.72, 1.39]
sedmu_t = [2012.74, 2013.17, 2013.49, 2013.49, 2013.52, 2015.37, 2016.70, 2016.78, 2017.05, 2017.21,
           2017.10, 2018.58]
sedmu_m = [1.43, 1.25, 1.23, 1.12, 0.99, 1.09, 1.07, 1.19, 1.07, 1.07, 1.20, 0.93]
gel_t = [2006.92, 2007.10, 2007.03, 2006.90, 2006.90, 2006.93, 2007.24, 2007.34, 2007.91, 2007.69,
         2007.79, 2007.75, 2007.62, 2007.87, 2007.80, 2007.64, 2007.95, 2008.10, 2008.09, 2008.32,
         2008.31, 2008.32, 2008.31, 2008.57, 2008.55, 2008.68, 2008.93, 2008.93, 2008.87, 2009.00,
         2009.22, 2009.56, 2009.56, 2009.85, 2010.06, 2010.14, 2010.49, 2010.49, 2009.56, 2008.45,
         2009.03]
gel_m = [3.17, 2.87, 2.67, 2.56, 2.37, 2.20, 2.50, 2.10, 1.86, 1.67,
         1.45, 1.23, 1.47, 0.73, 0.95, 1.05, 0.47, 0.87, 0.64, 0.98,
         0.79, 0.59, 0.36, 0.73, 0.60, 0.65, 0.97, 0.72, 0.60, 0.52,
         0.44, 0.57, 0.44, 0.43, 0.65, 1.12, 0.87, 0.61, 0.05, -0.13,
         0.16]
# GEL events stacked at the very start of the record
gel_edge_t = [2006.78, 2006.77, 2006.78, 2006.77, 2006.78, 2006.77, 2006.78, 2006.77, 2006.78, 2006.77,
              2006.78, 2006.77, 2006.78]
gel_edge_m = [2.75, 2.50, 2.25, 2.05, 1.82, 1.61, 1.38, 1.17, 0.96, 0.74, 0.55, 0.38, 0.22]

# templates (decimal year, magnitude)
tpl_t = [2006.95, 2006.96, 2006.98, 2007.00, 2006.97, 2007.02, 2007.05, 2006.99, 2007.04, 2007.08,
         2006.98, 2007.02, 2007.07, 2007.00, 2007.05, 2007.10, 2006.97, 2007.03, 2007.08, 2007.12,
         2006.99, 2007.04, 2007.10, 2006.96, 2007.06, 2007.15, 2007.18, 2007.20, 2007.14, 2007.01,
         2007.09, 2007.13, 2007.06, 2007.18, 2007.24, 2007.28,
         2006.96, 2007.00, 2007.03, 2006.97, 2007.06, 2007.11, 2007.16, 2007.01, 2007.08, 2007.14,
         2007.20, 2007.23, 2007.18, 2007.12, 2007.16, 2006.99, 2007.04, 2006.95, 2007.05, 2007.00,
         2007.10, 2007.22, 2007.26, 2007.19, 2007.07,
         2007.17, 2007.45, 2007.36, 2007.26, 2007.34, 2007.49, 2007.32, 2007.41, 2007.60, 2007.47,
         2007.22, 2007.38, 2007.58, 2007.30, 2007.66, 2007.39, 2007.77, 2007.26, 2007.68, 2007.94,
         2007.69, 2007.79, 2007.75, 2007.91, 2007.62, 2007.87, 2007.80,
         2007.42, 2007.55, 2007.52, 2007.28, 2007.66, 2007.50, 2007.82, 2007.55, 2007.70, 2007.35,
         2007.75, 2007.90, 2007.45, 2007.88, 2007.40, 2007.64, 2007.76, 2007.48, 2007.80, 2007.84,
         2008.10, 2008.09, 2008.32, 2008.31, 2008.32, 2008.31, 2008.57, 2008.55, 2008.68, 2008.93,
         2008.93, 2008.87, 2009.00, 2009.22, 2009.56, 2009.56, 2009.85, 2010.14, 2010.06, 2010.49,
         2010.49, 2009.56,
         2012.95, 2012.74, 2012.76, 2012.95, 2013.17, 2013.47, 2013.49, 2013.49, 2013.52, 2013.98,
         2014.99, 2015.18, 2015.30, 2014.99, 2015.37, 2016.74, 2017.16, 2017.12, 2017.19, 2017.02,
         2016.86, 2016.98, 2016.82, 2016.70, 2016.86, 2017.21, 2017.05, 2017.08, 2017.02, 2017.98]
tpl_m = [2.20, 2.02, 1.90, 1.75, 1.60, 1.50, 1.42, 1.30, 1.18, 1.05,
         1.00, 0.92, 0.85, 0.78, 0.70, 0.65, 0.60, 0.55, 0.50, 0.42,
         0.40, 0.33, 0.28, 0.20, 0.15, 0.90, 1.20, 0.55, 0.70, 1.10,
         1.28, 0.98, 0.95, 0.35, 0.75, 1.05,
         1.45, 1.22, 1.05, 0.88, 0.60, 0.75, 0.50, 0.48, 0.38, 0.25,
         0.15, 0.42, 0.62, 1.15, 1.35, 1.68, 1.62, 1.10, 0.18, 0.30,
         0.95, 0.92, 0.50, 0.82, 1.48,
         1.84, 1.87, 1.71, 1.58, 1.44, 1.33, 1.29, 1.11, 1.07, 0.91,
         0.78, 0.78, 0.82, 0.60, 0.60, 0.42, 0.42, 0.24, 0.24, 0.07,
         1.67, 1.45, 1.23, 1.86, 1.47, 0.73, 0.95,
         2.05, 1.95, 1.62, 1.40, 1.30, 1.15, 1.15, 0.55, 0.45, 0.28,
         0.15, 0.12, 1.45, 1.00, 0.90, 0.82, 0.65, 0.35, 0.30, 0.88,
         0.87, 0.64, 0.98, 0.79, 0.59, 0.36, 0.73, 0.60, 0.65, 0.97,
         0.72, 0.60, 0.52, 0.44, 0.57, 0.44, 0.43, 1.12, 0.65, 0.87,
         0.61, 0.05,
         1.60, 1.43, 1.27, 1.28, 1.25, 2.16, 1.23, 1.12, 0.99, 1.39,
         1.79, 1.53, 1.52, 1.09, 1.09, 1.85, 1.96, 1.82, 1.72, 1.67,
         1.32, 1.40, 1.19, 1.07, 1.05, 1.07, 1.07, 1.02, 1.03, 1.39]

# data gaps: start, end (decimal year) and the magnitude the bar reaches up to
gap_start = [2007.02, 2007.30, 2007.55, 2007.75, 2007.95, 2008.18, 2008.28, 2008.45, 2008.55, 2008.63,
             2008.80, 2008.98, 2009.06, 2009.22, 2009.30, 2009.50, 2009.62, 2009.72, 2009.80, 2009.88,
             2010.05, 2010.22, 2010.40, 2010.58, 2010.78, 2011.03, 2011.30, 2011.51, 2011.57, 2011.63,
             2011.76, 2012.10, 2012.34, 2012.75, 2013.20, 2013.78, 2013.99, 2014.60, 2015.03, 2015.20,
             2015.39, 2015.55, 2016.00, 2016.68, 2016.99, 2017.30, 2017.99, 2019.00]
gap_end = [2007.03, 2007.31, 2007.56, 2007.76, 2007.96, 2008.19, 2008.29, 2008.47, 2008.56, 2008.64,
           2008.81, 2008.99, 2009.07, 2009.235, 2009.31, 2009.51, 2009.63, 2009.73, 2009.82, 2009.89,
           2010.06, 2010.23, 2010.41, 2010.59, 2010.79, 2011.04, 2011.31, 2011.54, 2011.60, 2011.66,
           2011.77, 2012.11, 2012.38, 2012.76, 2013.21, 2013.84, 2014.00, 2014.61, 2015.04, 2015.28,
           2015.40, 2015.56, 2016.01, 2016.76, 2017.00, 2017.31, 2018.00, 2019.01]
gap_top = [-1.2, -1.2, -1.1, -1.0, -0.8, 0.5, 0.4, 0.95, 0.95, 0.9,
           0.3, 0.5, -0.3, 0.5, 0.2, 0.4, 0.95, 0.95, 0.95, 0.95,
           0.2, -0.2, 0.1, 0.3, -0.1, 0.93, 0.93, 0.95, 0.95, 0.95,
           0.07, -0.5, 0.92, -0.8, -0.8, 0.07, -0.6, -0.9, -0.7, -0.04,
           -0.7, -0.9, -0.6, -0.9, -0.8, -1.0, -0.8, -0.6]

# ------------------------------------------------------------------ helpers
def dt(values):
    """decimal years -> date strings for the date axes"""
    out = []
    for v in values:
        if v is None:
            out.append(None)
            continue
        y0 = int(np.floor(v))
        a = pd.Timestamp(year=y0, month=1, day=1)
        b = pd.Timestamp(year=y0 + 1, month=1, day=1)
        out.append((a + (b - a) * (v - y0)).strftime("%Y-%m-%d %H:%M"))
    return out


def msize(m):
    return np.maximum(3.0, 7.5 * np.exp(0.43 * np.asarray(m, float)))


year_color = dict(zip(tpl_years, tpl_colors))
M_LO, M_HI = -1.71, 3.51

fig = go.Figure()

# ------------------------------------------------------------------ upper panel traces
fig.add_trace(go.Scatter(x=dt(whp_t), y=whp_p, mode="lines", xaxis="x", yaxis="y",
                         line=dict(color="#9a34e8", width=4), connectgaps=False))
fig.add_trace(go.Scatter(x=dt(whp_burst_t), y=whp_burst_p, mode="lines", xaxis="x", yaxis="y",
                         line=dict(color="#9a34e8", width=2.5)))
fig.add_trace(go.Scatter(x=dt(whp_late_t), y=whp_late_p, mode="lines", xaxis="x", yaxis="y",
                         line=dict(color="#d4189c", width=3.5)))
fig.add_trace(go.Scatter(x=dt(whp_odd_t), y=whp_odd_p, mode="markers", xaxis="x", yaxis="y",
                         marker=dict(color="#7a3ae0", size=4)))
fig.add_trace(go.Scatter(x=dt(whp_late_odd_t), y=whp_late_odd_p, mode="markers", xaxis="x", yaxis="y",
                         marker=dict(color="#d4189c", size=2.5)))
fig.add_trace(go.Scatter(x=dt(manual_t), y=manual_p, mode="markers", xaxis="x", yaxis="y2",
                         marker=dict(color="#2196f0", size=8)))

# ------------------------------------------------------------------ lower panel traces
shapes = []
for s, e, top in zip(gap_start, gap_end, gap_top):
    xs = dt([s, e])
    shapes.append(dict(type="rect", xref="x2", yref="y3", x0=xs[0], x1=xs[1], y0=M_LO, y1=top,
                       fillcolor="#c9c9c9", line=dict(width=0), layer="below"))

fig.add_trace(go.Scatter(x=dt(gel_edge_t), y=gel_edge_m, mode="markers", xaxis="x2", yaxis="y3",
                         marker=dict(symbol="circle-open", size=msize(gel_edge_m) + 5, color="#1d9a4e",
                                     line=dict(width=3))))

for st, sm, col in [(swarm_2007_t, swarm_2007_m, "#545a6c"),
                    (swarm_2007b_t, swarm_2007b_m, "#7a7e90"),
                    (swarm_2016_t, swarm_2016_m, "#84858c"),
                    (swarm_2017_t, swarm_2017_m, "#84858c")]:
    fig.add_trace(go.Scatter(x=dt(st), y=sm, mode="lines", fill="toself", fillcolor=col,
                             line=dict(width=0, color=col), xaxis="x2", yaxis="y3"))

dets = det_early + det_2008 + det_2009_2011 + det_2011_2012 + det_2008_2012_low + det_2012_2014 + \
    det_2014_2016 + det_2016_2019 + det_small + det_located
dets = sorted(dets, key=lambda r: -r[1])
d_t, d_m, d_c = zip(*dets)
fig.add_trace(go.Scatter(
    x=dt(d_t), y=d_m, mode="markers", xaxis="x2", yaxis="y3",
    marker=dict(size=msize(d_m), color=[year_color[c] for c in d_c],
                line=dict(width=0.6, color="rgba(30,30,70,0.55)"))))

fig.add_trace(go.Scatter(x=dt(matte_t), y=matte_m, mode="markers", xaxis="x2", yaxis="y3",
                         marker=dict(size=msize(matte_m), color="#7a7a7a",
                                     line=dict(width=0.6, color="#555"))))

fig.add_trace(go.Scatter(x=dt(gel_t), y=gel_m, mode="markers", xaxis="x2", yaxis="y3",
                         marker=dict(symbol="circle-open", size=msize(gel_m) + 5, color="#1d9a4e",
                                     line=dict(width=2.5))))
fig.add_trace(go.Scatter(x=dt(sed_t), y=sed_m, mode="markers", xaxis="x2", yaxis="y3",
                         marker=dict(symbol="circle-open", size=msize(sed_m) + 10, color="#a4a4a4",
                                     line=dict(width=2.5))))
fig.add_trace(go.Scatter(x=dt(sedmu_t), y=sedmu_m, mode="markers", xaxis="x2", yaxis="y3",
                         marker=dict(symbol="circle-open", size=msize(sedmu_m) + 9, color="#e2a6e2",
                                     line=dict(width=2.5))))
fig.add_trace(go.Scatter(x=dt(tpl_t), y=tpl_m, mode="markers", xaxis="x2", yaxis="y3",
                         marker=dict(size=4.5, color="white", line=dict(width=0.6, color="#777"))))

# colour scale for template years
n = len(tpl_colors)
cscale = []
for i, c in enumerate(tpl_colors):
    cscale += [[i / n, c], [(i + 1) / n, c]]
fig.add_trace(go.Scatter(
    x=dt([2010.0]), y=[0], mode="markers", xaxis="x2", yaxis="y3",
    marker=dict(color=[2010], colorscale=cscale, cmin=2005.5, cmax=2017.5, opacity=0, size=1,
                showscale=True,
                colorbar=dict(x=1079 / W, xanchor="left", xpad=0, ypad=0,
                              y=1 - 458.5 / H, yanchor="middle", len=389 / H, lenmode="fraction",
                              thickness=21, thicknessmode="pixels", outlinewidth=1, outlinecolor="#222",
                              tickvals=tpl_years, ticktext=[str(y) for y in tpl_years], ticks="",
                              tickfont=dict(size=12, color="#222"),
                              title=dict(text="Template year", side="right",
                                         font=dict(size=17, color="#222"))))))

# ------------------------------------------------------------------ legend strip
LX0, LX1, LY0, LY1 = 65, 1040, 230, 258
r = 6
shapes.append(dict(type="path", xref="x3", yref="y4", layer="below",
                   path=(f"M {LX0 + r},{LY0} H {LX1 - r} Q {LX1},{LY0} {LX1},{LY0 + r} "
                         f"V {LY1 - r} Q {LX1},{LY1} {LX1 - r},{LY1} H {LX0 + r} "
                         f"Q {LX0},{LY1} {LX0},{LY1 - r} V {LY0 + r} Q {LX0},{LY0} {LX0 + r},{LY0} Z"),
                   line=dict(color="#c8c8c8", width=1), fillcolor="white"))
shapes.append(dict(type="rect", xref="x3", yref="y4", x0=944, x1=958, y0=237, y1=251,
                   fillcolor="#c4c4c4", line=dict(width=0)))

leg_y = 244
fig.add_trace(go.Scatter(x=[76], y=[leg_y], mode="markers", xaxis="x3", yaxis="y4",
                         marker=dict(size=13, color="#b3306c", line=dict(width=0))))
fig.add_trace(go.Scatter(x=[73, 76, 79], y=[leg_y - 2, leg_y, leg_y + 2], mode="markers",
                         xaxis="x3", yaxis="y4",
                         marker=dict(symbol="line-ne", size=[7, 12, 7], color="#3c3a9a",
                                     line=dict(width=1.6, color="#3c3a9a"))))
fig.add_trace(go.Scatter(x=[205], y=[leg_y], mode="markers", xaxis="x3", yaxis="y4",
                         marker=dict(size=15, color="#7a7a7a")))
fig.add_trace(go.Scatter(x=[363], y=[leg_y], mode="markers", xaxis="x3", yaxis="y4",
                         marker=dict(size=5, color="white", line=dict(width=0.7, color="#888"))))
fig.add_trace(go.Scatter(x=[634, 714, 828], y=[leg_y] * 3, mode="markers", xaxis="x3", yaxis="y4",
                         marker=dict(symbol="circle-open", size=17,
                                     color=["#a4a4a4", "#e2a6e2", "#1d9a4e"], line=dict(width=2.2))))

annotations = []
for x, txt in [(99, "Detections"), (223, "MATTE-detections"), (376, "Templates"),
               (506, "Located events:"), (655, "SED"), (732, "SED (µ-An.)"), (849, "GEL"),
               (973, "Data gap")]:
    annotations.append(dict(x=x, y=leg_y, xref="x3", yref="y4", text=txt, showarrow=False,
                            xanchor="left", yanchor="middle", font=dict(size=14, color="#222")))

# ------------------------------------------------------------------ labels
annotations.append(dict(x=78 / W, y=1 - 56 / H, xref="paper", yref="paper", text="wellhead pressure",
                        showarrow=False, xanchor="left", yanchor="middle",
                        font=dict(family="Lato", size=40, color="#b21fc2")))
annotations.append(dict(x=64 / W, y=1 + 17 / H, xref="paper", yref="paper", text="(EGS)",
                        showarrow=False, xanchor="left", yanchor="middle",
                        font=dict(size=44, color="#222")))
annotations.append(dict(x=dt([2017.61])[0], y=1 - 22 / H, xref="x", yref="paper", text="▼",
                        showarrow=False, xanchor="center", yanchor="middle",
                        font=dict(size=15, color="#8a8a8a")))
annotations.append(dict(x=dt([2006.88])[0], y=1 - 675 / H, xref="x2", yref="paper", text="2006",
                        showarrow=False, xanchor="center", yanchor="middle",
                        font=dict(size=15, color="#222")))

# ------------------------------------------------------------------ axes
XDOM = [62 / W, 1040 / W]
x_range = dt([T_START, T_END])
axis_line = dict(showline=True, linecolor="#111", linewidth=1.5, mirror="allticks", automargin=False)

date_common = dict(type="date", range=x_range, domain=XDOM, dtick="M12", tick0="2007-01-01",
                   ticks="outside", ticklen=8, tickcolor="#111", tickwidth=1,
                   minor=dict(dtick="M1", tick0="2007-01-01", ticks="outside", ticklen=3,
                              tickcolor="#333", showgrid=False),
                   zeroline=False, **axis_line)

fig.update_layout(
    width=W, height=H, margin=dict(l=0, r=0, t=0, b=0, pad=0, autoexpand=False),
    paper_bgcolor="white", plot_bgcolor="white", showlegend=False,
    font=dict(family="Liberation Sans, Arial, sans-serif", color="#222"),
    shapes=shapes, annotations=annotations, hovermode=False,
    xaxis=dict(anchor="y", showticklabels=False, showgrid=True, gridcolor="#a8a8a8", gridwidth=1,
               **date_common),
    yaxis=dict(domain=[1 - 226 / H, 1 - 30 / H], anchor="x", range=[0, 10], dtick=2,
               ticks="outside", ticklen=6, tickcolor="#111",
               minor=dict(dtick=1, ticks="outside", ticklen=3, tickcolor="#333"),
               tickfont=dict(size=12.5), showgrid=False, zeroline=False,
               title=dict(text="<span style='color:#9a38ea'>wellhead pressure</span> [bar]",
                          font=dict(size=15), standoff=6),
               **axis_line),
    yaxis2=dict(overlaying="y", anchor="x", side="right", range=[0, 10], dtick=2,
                ticks="outside", ticklen=6, tickcolor="#111", automargin=False,
                minor=dict(dtick=1, ticks="outside", ticklen=3, tickcolor="#333"),
                tickfont=dict(size=12.5), showgrid=False, zeroline=False,
                title=dict(text="<span style='color:#2a9af2'>manual reading</span> [bar]",
                           font=dict(size=15), standoff=8)),
    xaxis2=dict(anchor="y3", ticklabelmode="period", tickformat="%Y", tickfont=dict(size=15),
                showgrid=True, gridcolor="#c4c4c4", gridwidth=1, **date_common),
    yaxis3=dict(domain=[1 - 655 / H, 1 - 264 / H], anchor="x2", range=[M_LO, M_HI], dtick=1,
                ticks="outside", ticklen=6, tickcolor="#111",
                minor=dict(dtick=0.1, ticks="outside", ticklen=3, tickcolor="#333"),
                tickfont=dict(size=14), showgrid=False, zeroline=False,
                title=dict(text="Magnitude [<i>M</i><sub>wx</sub>]", font=dict(size=17), standoff=4),
                **axis_line),
    xaxis3=dict(domain=[LX0 / W, LX1 / W], anchor="y4", range=[LX0, LX1], visible=False, automargin=False),
    yaxis4=dict(domain=[1 - LY1 / H, 1 - LY0 / H], anchor="x3", range=[LY1, LY0], visible=False,
                automargin=False),
)

fig.write_html("out.html")
